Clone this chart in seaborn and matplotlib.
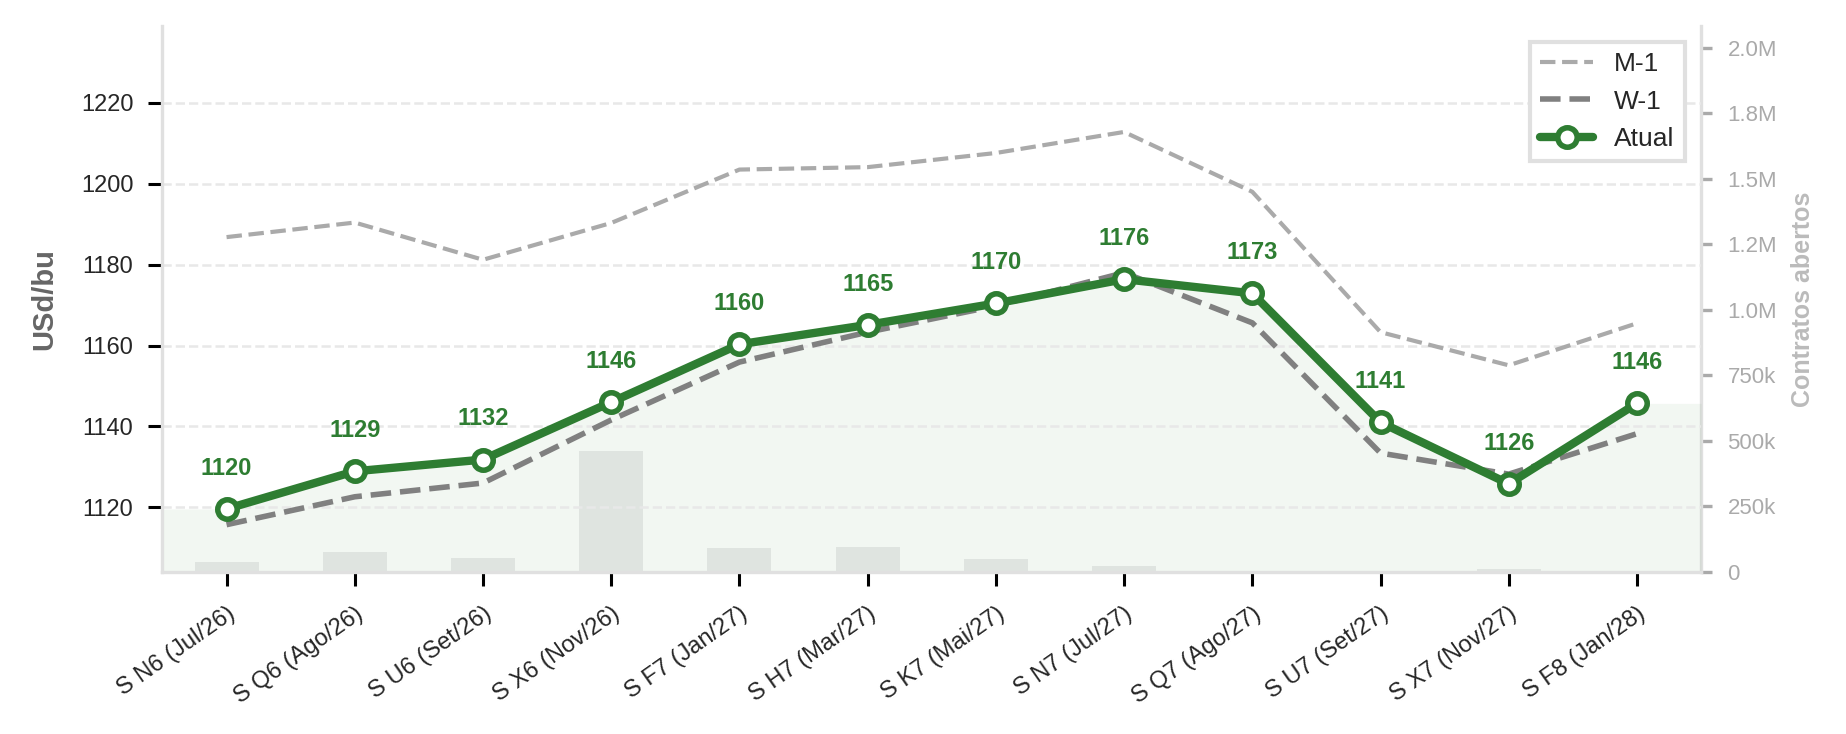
import numpy as np
import matplotlib
matplotlib.use("Agg")
import matplotlib.pyplot as plt
import seaborn as sns
from matplotlib.ticker import FuncFormatter, MultipleLocator

# contracts on the curve
contracts = ["S N6 (Jul/26)", "S Q6 (Ago/26)", "S U6 (Set/26)", "S X6 (Nov/26)",
             "S F7 (Jan/27)", "S H7 (Mar/27)", "S K7 (Mai/27)", "S N7 (Jul/27)",
             "S Q7 (Ago/27)", "S U7 (Set/27)", "S X7 (Nov/27)", "S F8 (Jan/28)"]

# prices (USd/bu)
atual = [1119.6, 1128.9, 1131.8, 1146.0, 1160.3, 1165.1, 1170.4, 1176.4, 1172.9, 1141.0, 1125.8, 1145.7]
w1 = [1115.7, 1122.6, 1126.0, 1141.6, 1155.9, 1163.3, 1169.8, 1178.0, 1165.6, 1133.4, 1128.2, 1138.2]
m1 = [1186.8, 1190.4, 1181.2, 1190.3, 1203.5, 1204.1, 1207.6, 1212.8, 1198.0, 1163.3, 1155.1, 1165.5]

# open interest (contracts)
open_int = [39000, 78000, 55000, 463000, 93000, 97000, 51000, 24000, 600, 400, 12000, 900]

green = "#2e7d32"

sns.set_style("ticks")
plt.rcParams['font.family'] = ['Liberation Sans', 'DejaVu Sans']

fig, ax = plt.subplots(figsize=(9.23, 3.67), dpi=200)
fig.subplots_adjust(left=0.088, right=0.9215, top=0.9646, bottom=0.2207)
ax2 = ax.twinx()
x = np.arange(len(contracts))

# open interest bars on the secondary axis (behind everything)
sns.barplot(x=x, y=open_int, ax=ax2, color="#9e9e9e", alpha=0.2, width=0.5,
            saturation=1, linewidth=0)
ax2.set_ylim(0, max(open_int) * 4.5)
ax2.yaxis.set_major_locator(MultipleLocator(250000))


def fmt_oi(v, pos):
    if v == 0:
        return "0"
    if v < 1e6:
        return f"{v / 1e3:.0f}k"
    return f"{v / 1e6:.1f}M"


ax2.yaxis.set_major_formatter(FuncFormatter(fmt_oi))
ax2.set_ylabel("Contratos abertos", fontsize=9, fontweight="bold", color="#bbbbbb", labelpad=5)
ax2.tick_params(axis="y", colors="#aaaaaa", labelcolor="#aaaaaa", labelsize=8,
                length=4, width=1.2, pad=5.5)
ax2.set_xlabel("")

ax.set_zorder(ax2.get_zorder() + 1)
ax.patch.set_visible(False)

# price curves
ax.set_ylim(1104, 1239)
sns.lineplot(x=x, y=m1, ax=ax, color="#aaaaaa", lw=1.5, linestyle="--", label="M-1")
sns.lineplot(x=x, y=w1, ax=ax, color="#808080", lw=2, linestyle="--", label="W-1")
sns.lineplot(x=x, y=atual, ax=ax, color=green, lw=3, marker="o", markersize=7,
             markerfacecolor="white", markeredgecolor=green, markeredgewidth=2, label="Atual")

# light area under the current curve, held flat to the edges
xf = np.concatenate([[-0.5], x, [len(x) - 0.5]])
yf = [atual[0]] + atual + [atual[-1]]
ax.fill_between(xf, yf, ax.get_ylim()[0], color=green, alpha=0.06, lw=0, zorder=0)

for xi, v in zip(x, atual):
    ax.annotate(f"{v:.0f}", (xi, v), xytext=(0, 10.5), textcoords="offset points",
                ha="center", va="bottom", fontsize=8.5, fontweight="bold", color=green)

ax.set_xlim(-0.5, len(x) - 0.5)
ax.set_xticks(x)
ax.set_xticklabels(contracts, rotation=35, ha="right", rotation_mode="anchor", fontsize=8.5)
ax.yaxis.set_major_locator(MultipleLocator(20))
ax.tick_params(axis="y", labelsize=8.5, length=5, width=1.1, color="black", pad=5.5)
ax.tick_params(axis="x", length=5, width=1.1, color="black", pad=6)
ax.grid(axis="y", linestyle="--", color="#e8e8e8", lw=0.9)
ax.set_ylabel("USd/bu", fontsize=10.5, fontweight="bold", color="#666666", labelpad=8)
ax.set_xlabel("")

for name, sp in ax.spines.items():
    sp.set_color("#e0e0e0")
    sp.set_linewidth(1.2)
ax.spines["top"].set_visible(False)
ax.spines["right"].set_visible(False)
for name, sp in ax2.spines.items():
    sp.set_visible(name == "right")
    sp.set_color("#e0e0e0")
    sp.set_linewidth(1.2)

leg = ax.legend(loc="upper right", frameon=True, fancybox=False, edgecolor="#e0e0e0",
                fontsize=9.5, framealpha=1, borderaxespad=0.6, handlelength=2.0)
leg.get_frame().set_linewidth(1.5)

fig.savefig("out.png", dpi=200)
